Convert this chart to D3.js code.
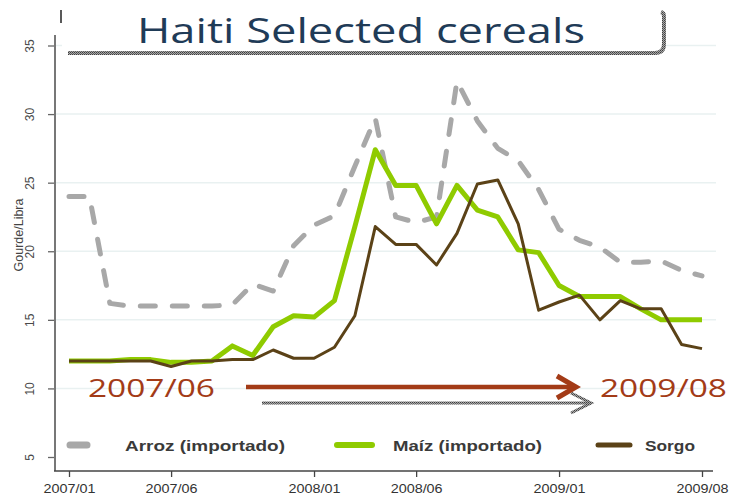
<!DOCTYPE html>
<html>
<head>
<meta charset="utf-8">
<script src="https://cdn.jsdelivr.net/npm/d3@7"></script>
<style>
	body { margin: 0; background: #fff; }
	svg { display: block; }
	.axis text { font-family: 'Liberation Sans', Arial, sans-serif; fill: #333; }
	.legend text { font-family: 'Liberation Sans', Arial, sans-serif; font-weight: bold; fill: #3a3a3a; }
</style>
</head>
<body>
<script>

var months = ['2007/01','2007/02','2007/03','2007/04','2007/05','2007/06','2007/07','2007/08','2007/09','2007/10','2007/11','2007/12',
	'2008/01','2008/02','2008/03','2008/04','2008/05','2008/06','2008/07','2008/08','2008/09','2008/10','2008/11','2008/12',
	'2009/01','2009/02','2009/03','2009/04','2009/05','2009/06','2009/07','2009/08']

var arroz = [24, 24, 16.2, 16, 16, 16, 16, 16, 16.1, 17.6, 17.1, 20.4, 21.9, 22.6, 26.2, 29.7,
	22.5, 22.1, 22.5, 32.4, 29.5, 27.5, 26.6, 24.5, 21.6, 20.8, 20.3, 19.2, 19.2, 19.3, 18.6, 18.2]

var maiz = [12, 12, 12, 12.1, 12.1, 11.9, 11.9, 12, 13.1, 12.4, 14.5, 15.3, 15.2, 16.4, 21.8, 27.4,
	24.8, 24.8, 22.0, 24.8, 23.0, 22.5, 20.1, 19.9, 17.5, 16.7, 16.7, 16.7, 15.8, 15.0, 15.0, 15.0]

var sorgo = [12, 12, 12, 12, 12, 11.6, 12, 12, 12.1, 12.1, 12.8, 12.2, 12.2, 13.0, 15.3, 21.8,
	20.5, 20.5, 19.0, 21.3, 24.9, 25.2, 22.0, 15.7, 16.3, 16.8, 15.0, 16.4, 15.8, 15.8, 13.2, 12.9]

var xTicks = ['2007/01', '2007/06', '2008/01', '2008/06', '2009/01', '2009/08']
var yTicks = [5, 10, 15, 20, 25, 30, 35]
var gridTicks = [10, 15, 20, 25, 30, 35]

var seriesNames = ['Arroz (importado)', 'Maíz (importado)', 'Sorgo']

var width = 731
var height = 500

var svg = d3.select('body')
	.append('svg')
	.attr('width', width)
	.attr('height', height)

// hatched grey used for the "shadow" strokes
var pat = svg.append('defs').append('pattern')
	.attr('id', 'hatch')
	.attr('patternUnits', 'userSpaceOnUse')
	.attr('width', 2)
	.attr('height', 2)
pat.append('rect').attr('width', 2).attr('height', 2).attr('fill', '#a8a8a8')
pat.append('rect').attr('width', 1).attr('height', 1).attr('fill', '#3c3c3c')
pat.append('rect').attr('x', 1).attr('y', 1).attr('width', 1).attr('height', 1).attr('fill', '#5e5e5e')

var xScale = d3.scalePoint()
	.domain(months)
	.range([69, 702])

var yScale = d3.scaleLinear()
	.domain([5, 35])
	.range([457, 45.5])

var axisLeftX = 55
var axisBottomY = 471

// grid
svg.append('g')
	.selectAll('line')
	.data(gridTicks)
	.join('line')
		.attr('x1', axisLeftX + 1)
		.attr('x2', 716)
		.attr('y1', d => yScale(d))
		.attr('y2', d => yScale(d))
		.attr('stroke', '#e9f1f1')
		.attr('stroke-width', 1.5)

// y axis
var yAxis = svg.append('g')
	.attr('class', 'axis')
	.attr('transform', `translate(${axisLeftX}, 0)`)
	.call(d3.axisLeft(yScale).tickValues(yTicks).tickSize(7))

yAxis.select('.domain').remove()
yAxis.selectAll('.tick line').attr('stroke', '#666').attr('stroke-width', 1.3)
yAxis.selectAll('.tick text')
	.attr('x', 0)
	.attr('dy', '0.35em')
	.attr('text-anchor', 'middle')
	.attr('transform', 'translate(-25, 0) rotate(-90)')
	.style('font-size', '12px')
	.style('fill', '#4a4a4a')

svg.append('line')
	.attr('x1', axisLeftX).attr('x2', axisLeftX)
	.attr('y1', 35).attr('y2', axisBottomY)
	.attr('stroke', '#777')
	.attr('stroke-width', 2)

svg.append('text')
	.attr('transform', `translate(19, 235) rotate(-90)`)
	.attr('text-anchor', 'middle')
	.attr('dy', '0.35em')
	.style('font-family', "'Liberation Sans', Arial, sans-serif")
	.style('font-size', '12.5px')
	.style('fill', '#444')
	.text('Gourde/Libra')

// x axis
var xAxis = svg.append('g')
	.attr('class', 'axis')
	.attr('transform', `translate(0, ${axisBottomY})`)
	.call(d3.axisBottom(xScale).tickValues(xTicks).tickSize(6).tickPadding(7))

xAxis.select('.domain').remove()
xAxis.selectAll('.tick line').attr('stroke', '#444').attr('stroke-width', 1.3)
xAxis.selectAll('.tick text')
	.style('font-size', '13px')
	.attr('textLength', 52)
	.attr('lengthAdjust', 'spacingAndGlyphs')

svg.append('line')
	.attr('x1', axisLeftX - 1).attr('x2', 713)
	.attr('y1', axisBottomY).attr('y2', axisBottomY)
	.attr('stroke', '#444')
	.attr('stroke-width', 1.5)

// lines
var line = d3.line()
	.x((d, i) => xScale(months[i]))
	.y(d => yScale(d))

svg.append('path')
	.datum(arroz)
	.attr('d', line)
	.attr('fill', 'none')
	.attr('stroke', '#a8a8a8')
	.attr('stroke-width', 5)
	.attr('stroke-linecap', 'round')
	.attr('stroke-linejoin', 'round')
	.attr('stroke-dasharray', '15,17')

svg.append('path')
	.datum(maiz)
	.attr('d', line)
	.attr('fill', 'none')
	.attr('stroke', '#8fcb00')
	.attr('stroke-width', 5)
	.attr('stroke-linejoin', 'round')

svg.append('path')
	.datum(sorgo)
	.attr('d', line)
	.attr('fill', 'none')
	.attr('stroke', '#5b4217')
	.attr('stroke-width', 3)
	.attr('stroke-linejoin', 'round')

// legend
var legendItems = [
	{ name : seriesNames[0], color : '#a8a8a8', x1 : 70, x2 : 87, w : 7, tx : 125, tl : 160 },
	{ name : seriesNames[1], color : '#8fcb00', x1 : 337, x2 : 372, w : 6, tx : 393, tl : 149 },
	{ name : seriesNames[2], color : '#5b4217', x1 : 598, x2 : 630, w : 5, tx : 645, tl : 50 }
]

var legend = svg.append('g').attr('class', 'legend')

legend.selectAll('line')
	.data(legendItems)
	.join('line')
		.attr('x1', d => d.x1)
		.attr('x2', d => d.x2)
		.attr('y1', 445)
		.attr('y2', 445)
		.attr('stroke', d => d.color)
		.attr('stroke-width', d => d.w)
		.attr('stroke-linecap', 'round')

legend.selectAll('text')
	.data(legendItems)
	.join('text')
		.attr('x', d => d.tx)
		.attr('y', 451)
		.attr('textLength', d => d.tl)
		.attr('lengthAdjust', 'spacingAndGlyphs')
		.style('font-size', '15px')
		.text(d => d.name)

// title box
svg.append('rect')
	.attr('x', 62).attr('y', 8)
	.attr('width', 600).attr('height', 43)
	.attr('fill', '#fff')

svg.append('path')
	.attr('d', 'M68,53 H655 Q664,53 664,44 V16 Q664,13 661,12')
	.attr('fill', 'none')
	.attr('stroke', 'url(#hatch)')
	.attr('stroke-width', 4)

svg.append('line')
	.attr('x1', 61).attr('x2', 61)
	.attr('y1', 10).attr('y2', 23)
	.attr('stroke', '#222')
	.attr('stroke-width', 1.5)

svg.append('text')
	.attr('x', 137)
	.attr('y', 43)
	.attr('textLength', 448)
	.attr('lengthAdjust', 'spacingAndGlyphs')
	.style('font-family', "'Open Sans', 'DejaVu Sans', sans-serif")
	.style('font-size', '35px')
	.style('fill', '#1f3b57')
	.text('Haiti Selected cereals')

// period annotation
var red = '#a33b17'

svg.append('line')
	.attr('x1', 262).attr('x2', 590)
	.attr('y1', 403).attr('y2', 403)
	.attr('stroke', 'url(#hatch)')
	.attr('stroke-width', 3)

svg.append('path')
	.attr('d', 'M571,393 L591,403 L571,413')
	.attr('fill', 'none')
	.attr('stroke', 'url(#hatch)')
	.attr('stroke-width', 3)

svg.append('line')
	.attr('x1', 246).attr('x2', 574)
	.attr('y1', 387).attr('y2', 387)
	.attr('stroke', red)
	.attr('stroke-width', 4.5)

svg.append('path')
	.attr('d', 'M557,376 L576,387 L557,398')
	.attr('fill', 'none')
	.attr('stroke', red)
	.attr('stroke-width', 5)

svg.selectAll('text.period')
	.data([{ t : '2007/06', x : 88 }, { t : '2009/08', x : 600 }])
	.join('text')
		.attr('class', 'period')
		.attr('x', d => d.x)
		.attr('y', 397)
		.attr('textLength', 127)
		.attr('lengthAdjust', 'spacingAndGlyphs')
		.style('font-family', "'Open Sans', 'DejaVu Sans', sans-serif")
		.style('font-size', '26px')
		.style('fill', red)
		.text(d => d.t)

</script>
</body>
</html>
